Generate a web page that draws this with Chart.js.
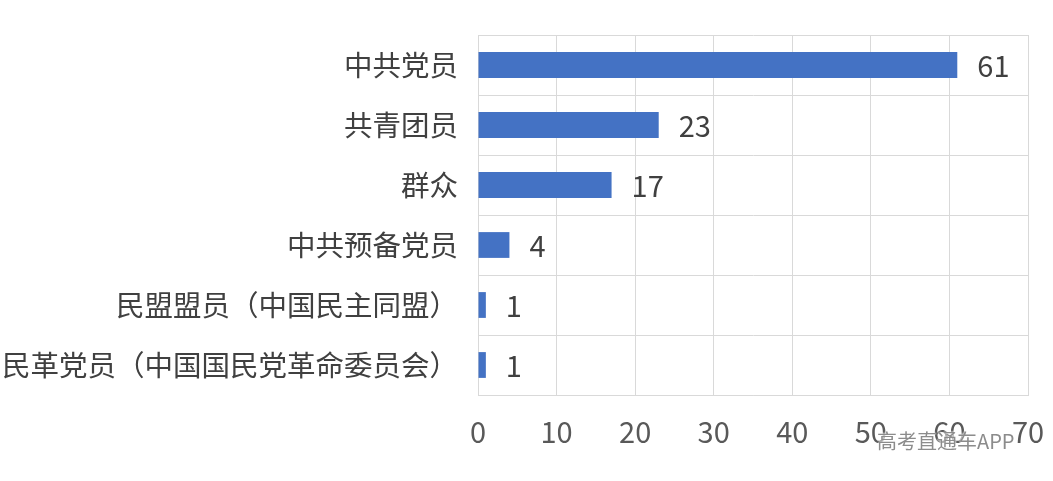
<!DOCTYPE html>
<html>
<head>
<meta charset="utf-8">
<script src="https://cdn.jsdelivr.net/npm/chart.js@4"></script>
<style>
  html, body { margin: 0; padding: 0; background: #fff; }
  #wrap { position: relative; width: 1053px; height: 481px; }
  #mark {
    position: absolute; left: 877px; top: 426px;
    font: 20px "Noto Sans CJK SC", sans-serif; color: #8c8c8c;
    text-shadow: 0 0 2px #fff, 0 0 2px #fff;
  }
</style>
</head>
<body>
<div id="wrap">
  <canvas id="partyChart" width="1053" height="481"></canvas>
  <div id="mark">高考直通车APP</div>
</div>
<script>
// categories and values, top to bottom
const categories = ['中共党员', '共青团员', '群众', '中共预备党员', '民盟盟员（中国民主同盟）', '民革党员（中国国民党革命委员会）'];
const counts = [61, 23, 17, 4, 1, 1];
const xTicks = [0, 10, 20, 30, 40, 50, 60, 70];

const cjk = '"Noto Sans CJK SC", "Noto Sans", sans-serif';
const gridColor = '#d9d9d9';

// value labels at the end of each bar
const barLabels = {
    id: 'barLabels',
    afterDatasetsDraw(chart) {
        const ctx = chart.ctx;
        const meta = chart.getDatasetMeta(0);
        ctx.save();
        ctx.font = '29px ' + cjk;
        ctx.fillStyle = '#404040';
        ctx.textBaseline = 'middle';
        meta.data.forEach((bar, i) => {
            ctx.fillText(String(counts[i]), bar.x + 20, bar.y + 1);
        });
        ctx.restore();
    }
};

const el = document.getElementById('partyChart');
new Chart(el, {
    type: 'bar',
    data: {
        labels: categories,
        datasets: [{
            data: counts,
            backgroundColor: '#4472C4',
            categoryPercentage: 1,
            barPercentage: 0.43
        }]
    },
    options: {
        indexAxis: 'y',
        responsive: false,
        animation: false,
        layout: { padding: { top: 35, right: 25, left: 0, bottom: 0 } },
        plugins: { legend: { display: false }, tooltip: { enabled: false } },
        scales: {
            x: {
                min: 0,
                max: 70,
                afterBuildTicks(axis) { axis.ticks = xTicks.map(v => ({ value: v })); },
                afterFit(axis) {
                    axis.height = 86;
                    axis.paddingLeft = 0;
                    axis.paddingRight = 0;
                },
                grid: { color: gridColor, lineWidth: 1, drawTicks: false },
                border: { color: gridColor },
                ticks: { padding: 20, color: '#595959', font: { size: 29, family: cjk } }
            },
            y: {
                afterFit(axis) {
                    axis.width = 478;
                    axis.paddingTop = 0;
                    axis.paddingBottom = 0;
                },
                grid: { color: gridColor, lineWidth: 1, drawTicks: false, offset: true },
                border: { color: gridColor },
                ticks: { padding: 20, color: '#404040', font: { size: 28.5, family: cjk } }
            }
        }
    },
    plugins: [barLabels]
});
</script>
</body>
</html>
